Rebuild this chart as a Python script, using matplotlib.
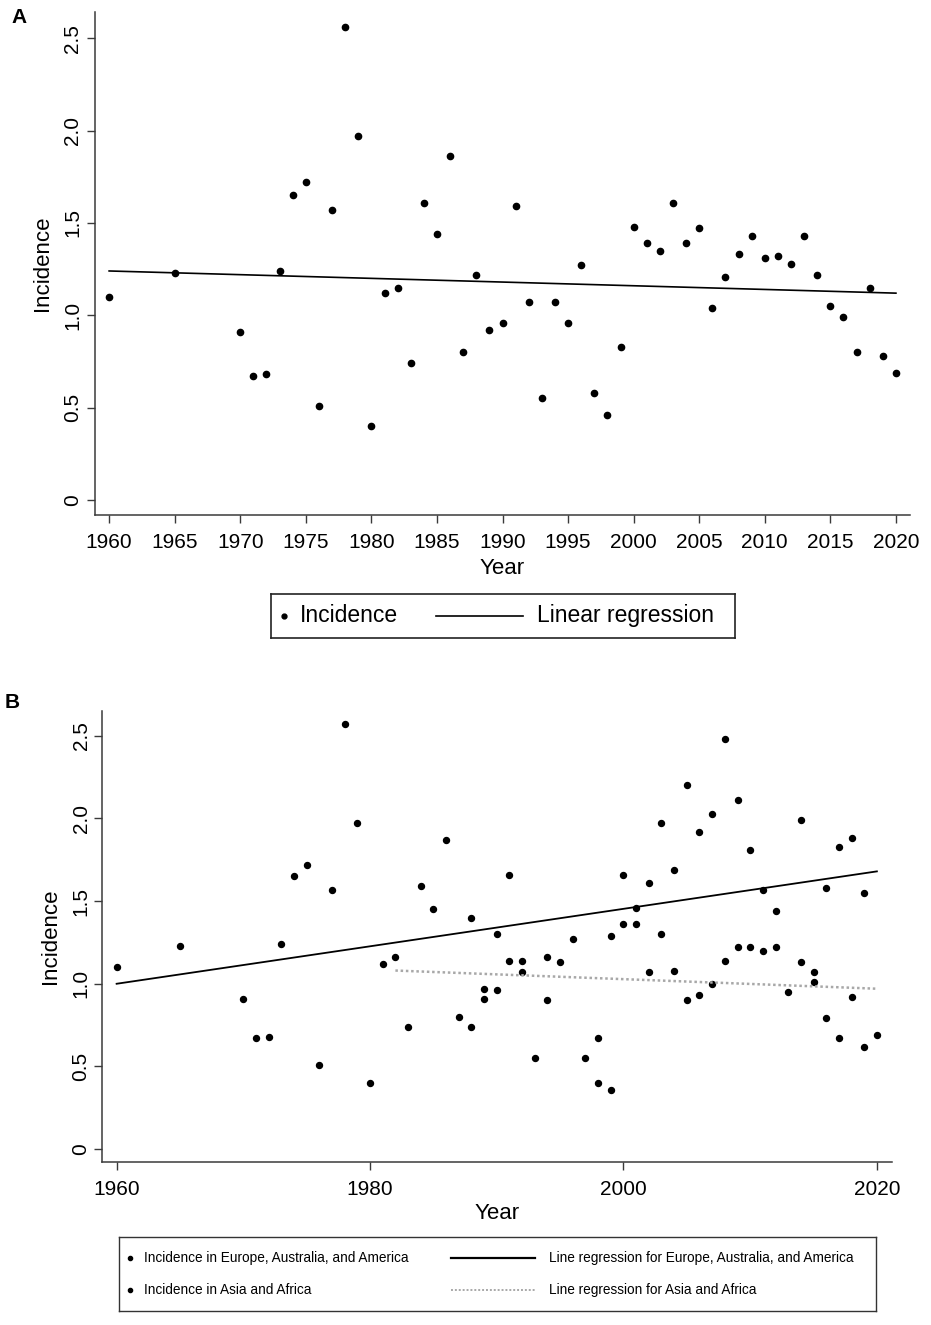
import matplotlib
matplotlib.use("Agg")
import matplotlib.pyplot as plt

plt.rcParams['font.family'] = ['Liberation Sans', 'DejaVu Sans']

# ---- panel A: all regions ----
years_a = [1960, 1965, 1970, 1971, 1972, 1973, 1974, 1975, 1976, 1977,
           1978, 1979, 1980, 1981, 1982, 1983, 1984, 1985, 1986, 1987,
           1988, 1989, 1990, 1991, 1992, 1993, 1994, 1995, 1996, 1997,
           1998, 1999, 2000, 2001, 2002, 2003, 2004, 2005, 2006, 2007,
           2008, 2009, 2010, 2011, 2012, 2013, 2014, 2015, 2016, 2017,
           2018, 2019, 2020]
incidence_a = [1.10, 1.23, 0.91, 0.67, 0.68, 1.24, 1.65, 1.72, 0.51, 1.57,
               2.56, 1.97, 0.40, 1.12, 1.15, 0.74, 1.61, 1.44, 1.86, 0.80,
               1.22, 0.92, 0.96, 1.59, 1.07, 0.55, 1.07, 0.96, 1.27, 0.58,
               0.46, 0.83, 1.48, 1.39, 1.35, 1.61, 1.39, 1.47, 1.04, 1.21,
               1.33, 1.43, 1.31, 1.32, 1.28, 1.43, 1.22, 1.05, 0.99, 0.80,
               1.15, 0.78, 0.69]
fit_years_a = [1960, 2020]
fit_a = [1.24, 1.12]

# ---- panel B: by region ----
years_eu = [1960, 1965, 1970, 1971, 1972, 1973, 1974, 1975, 1976, 1977,
            1978, 1979, 1980, 1981, 1982, 1983, 1984, 1985, 1986, 1987,
            1988, 1989, 1990, 1991, 1992, 1994, 1995, 1996, 1998, 1999,
            2000, 2001, 2002, 2003, 2004, 2005, 2006, 2007, 2008, 2009,
            2010, 2011, 2012, 2014, 2015, 2016, 2017, 2018, 2019, 2020]
incidence_eu = [1.10, 1.23, 0.91, 0.67, 0.68, 1.24, 1.65, 1.72, 0.51, 1.57,
                2.57, 1.97, 0.40, 1.12, 1.16, 0.74, 1.59, 1.45, 1.87, 0.80,
                1.40, 0.97, 1.30, 1.66, 1.14, 1.16, 1.13, 1.27, 0.67, 1.29,
                1.66, 1.46, 1.61, 1.97, 1.69, 2.20, 1.92, 2.03, 2.48, 2.11,
                1.81, 1.57, 1.44, 1.99, 1.07, 1.58, 1.83, 1.88, 1.55, 0.69]
years_as = [1988, 1989, 1990, 1991, 1992, 1993, 1994, 1997, 1998, 1999,
            2000, 2001, 2002, 2003, 2004, 2005, 2006, 2007, 2008, 2009,
            2010, 2011, 2012, 2013, 2014, 2015, 2016, 2017, 2018, 2019]
incidence_as = [0.74, 0.91, 0.96, 1.14, 1.07, 0.55, 0.90, 0.55, 0.40, 0.36,
                1.36, 1.36, 1.07, 1.30, 1.08, 0.90, 0.93, 1.00, 1.14, 1.22,
                1.22, 1.20, 1.22, 0.95, 1.13, 1.01, 0.79, 0.67, 0.92, 0.62]
fit_years_eu = [1960, 2020]
fit_eu = [1.00, 1.68]
fit_years_as = [1982, 2020]
fit_as = [1.08, 0.97]

yticks = [0, 0.5, 1.0, 1.5, 2.0, 2.5]
ytick_labels = ['0', '0.5', '1.0', '1.5', '2.0', '2.5']
xticks_a = [1960, 1965, 1970, 1975, 1980, 1985, 1990, 1995, 2000, 2005, 2010, 2015, 2020]
xticks_b = [1960, 1980, 2000, 2020]

axis_col = '#3a3a3a'
dotted_col = '#a8a8a8'

fig = plt.figure(figsize=(9.31, 13.25), dpi=100)


def style_axes(ax, ypad):
    for s in ['top', 'right']:
        ax.spines[s].set_visible(False)
    for s in ['left', 'bottom']:
        ax.spines[s].set_color(axis_col)
        ax.spines[s].set_linewidth(1.1)
    ax.tick_params(axis='both', direction='out', length=6, width=1.0,
                   color=axis_col, labelsize=15)
    ax.tick_params(axis='x', pad=7)
    ax.tick_params(axis='y', pad=ypad, labelrotation=90)
    ax.set_yticks(yticks)
    ax.set_yticklabels(ytick_labels, va='center')


# ---------- A ----------
axA = fig.add_axes([0.1020, 0.6113, 0.8754, 0.3794])
axA.plot(years_a, incidence_a, 'o', color='black', ms=4.5, ls='none')
axA.plot(fit_years_a, fit_a, color='black', lw=1.2)
axA.set_xlim(1958.92, 2021.07)
axA.set_ylim(-0.081, 2.64)
axA.set_xticks(xticks_a)
style_axes(axA, 3)
axA.set_xlabel('Year', fontsize=16, va='center')
axA.xaxis.set_label_coords(0.5, -0.107)
axA.set_ylabel('Incidence', fontsize=16, va='center')
axA.yaxis.set_label_coords(-0.064, 0.5)
fig.text(0.0205, 0.9868, 'A', fontsize=15, fontweight='bold', ha='center', va='center')

# legend A
lgA = fig.add_axes([0.2911, 0.5185, 0.4984, 0.0332])
lgA.set_xlim(0, 1)
lgA.set_ylim(0, 1)
lgA.set_xticks([])
lgA.set_yticks([])
for s in lgA.spines.values():
    s.set_linewidth(1.2)
    s.set_color('#222222')
lgA.plot([0.028], [0.5], 'o', color='black', ms=3.5)
lgA.text(0.0625, 0.5, 'Incidence', fontsize=16.5, va='center', ha='left')
lgA.plot([0.356, 0.543], [0.5, 0.5], color='black', lw=1.2)
lgA.text(0.573, 0.5, 'Linear regression', fontsize=16.5, va='center', ha='left')

# ---------- B ----------
axB = fig.add_axes([0.1092, 0.1232, 0.8486, 0.3404])
axB.plot(years_eu, incidence_eu, 'o', color='black', ms=4.3, ls='none')
axB.plot(years_as, incidence_as, 'o', color='black', ms=4.3, ls='none')
axB.plot(fit_years_eu, fit_eu, color='black', lw=1.3)
axB.plot(fit_years_as, fit_as, color=dotted_col, lw=1.8, ls=(0, (1, 1.1)))
axB.set_xlim(1958.82, 2021.17)
axB.set_ylim(-0.077, 2.652)
axB.set_xticks(xticks_b)
style_axes(axB, 2)
axB.set_xlabel('Year', fontsize=16, va='center')
axB.xaxis.set_label_coords(0.5, -0.115)
axB.set_ylabel('Incidence', fontsize=16, va='center')
axB.yaxis.set_label_coords(-0.065, 0.5)
fig.text(0.0129, 0.4698, 'B', fontsize=15, fontweight='bold', ha='center', va='center')

# legend B
lgB = fig.add_axes([0.1278, 0.0109, 0.8131, 0.0558])
lgB.set_xlim(0, 1)
lgB.set_ylim(0, 1)
lgB.set_xticks([])
lgB.set_yticks([])
for s in lgB.spines.values():
    s.set_linewidth(1.0)
    s.set_color('#333333')
lgB.plot([0.0139], [0.712], 'o', color='black', ms=3)
lgB.text(0.033, 0.712, 'Incidence in Europe, Australia, and America', fontsize=9.8, va='center')
lgB.plot([0.4386, 0.549], [0.712, 0.712], color='black', lw=1.6)
lgB.text(0.568, 0.712, 'Line regression for Europe, Australia, and America', fontsize=9.8, va='center')
lgB.plot([0.0139], [0.279], 'o', color='black', ms=3)
lgB.text(0.033, 0.279, 'Incidence in Asia and Africa', fontsize=9.8, va='center')
lgB.plot([0.4386, 0.549], [0.279, 0.279], color=dotted_col, lw=1.4, ls=(0, (1, 1)))
lgB.text(0.568, 0.279, 'Line regression for Asia and Africa', fontsize=9.8, va='center')

fig.savefig('out.png', dpi=100)
